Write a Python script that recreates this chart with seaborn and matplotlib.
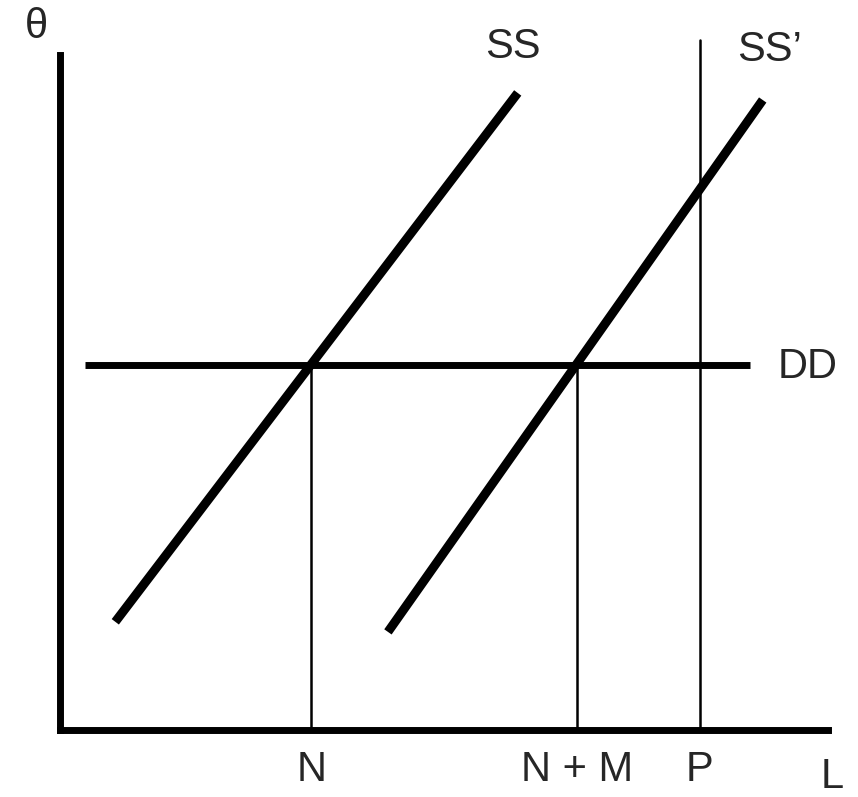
import matplotlib
matplotlib.use("Agg")
import matplotlib.pyplot as plt
import seaborn as sns

sns.set_style("white")
plt.rcParams['font.family'] = ['Liberation Sans', 'DejaVu Sans']

# labour market diagram, axes scaled 0-100
SS_L = [7.2, 59.6]
SS_theta = [16.1, 94.8]
SS2_L = [42.7, 91.5]
SS2_theta = [14.6, 93.75]
DD_L = [3.3, 89.8]
DD_theta = [54.3, 54.3]
N_L = 32.7
NM_L = 67.3
P_L = 83.3
P_top = 102.7

tick_pos = [N_L, NM_L, P_L]
tick_labels = ['N', 'N + M', 'P']

fig = plt.figure(figsize=(8.58, 7.97), dpi=100)
ax = fig.add_axes([60 / 858, 67 / 797, 768 / 858, 675 / 797])
ax.set_xlim(0, 100)
ax.set_ylim(0, 675 / 6.72)

sns.lineplot(x=SS_L, y=SS_theta, ax=ax, color='black', linewidth=6.5, solid_capstyle='butt')
sns.lineplot(x=SS2_L, y=SS2_theta, ax=ax, color='black', linewidth=6.5, solid_capstyle='butt')
sns.lineplot(x=DD_L, y=DD_theta, ax=ax, color='black', linewidth=5, solid_capstyle='butt')

# thin verticals
ax.plot([N_L, N_L], [0, DD_theta[0]], color='black', lw=1.8)
ax.plot([NM_L, NM_L], [0, DD_theta[0]], color='black', lw=1.8)
ax.plot([P_L, P_L], [0, P_top], color='black', lw=1.8, clip_on=False)

for s in ['top', 'right']:
    ax.spines[s].set_visible(False)
for s in ['left', 'bottom']:
    ax.spines[s].set_linewidth(5)
    ax.spines[s].set_color('black')
    ax.spines[s].set_capstyle('projecting')
ax.set_xticks([])
ax.set_yticks([])

fs = 30
for x, lab in zip(tick_pos, tick_labels):
    ax.text(x, -6.0, lab, ha='center', va='center', fontsize=fs, clip_on=False)
ax.text(100.5, -8.7, 'L', ha='center', va='baseline', fontsize=fs, clip_on=False)
ax.text(-3.1, 104.6, 'θ', ha='center', va='center', fontsize=fs, clip_on=False)
ax.text(58.9, 101.6, 'SS', ha='center', va='center', fontsize=fs, clip_on=False)
ax.text(92.4, 101.2, 'SS’', ha='center', va='center', fontsize=fs, clip_on=False)
ax.text(97.3, 54.0, 'DD', ha='center', va='center', fontsize=fs, clip_on=False)

fig.savefig('out.png', dpi=100)
